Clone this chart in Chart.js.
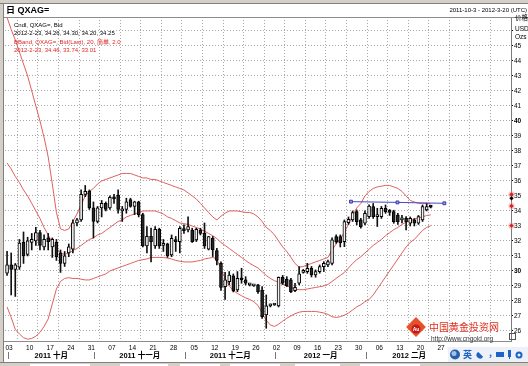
<!DOCTYPE html>
<html><head><meta charset="utf-8">
<script src="https://cdn.jsdelivr.net/npm/chart.js@4/dist/chart.umd.min.js"></script>
<style>html,body{margin:0;padding:0;background:#fff;overflow:hidden}canvas{display:block}</style>
</head><body>
<canvas id="c" width="528" height="366"></canvas>
<script>
// ---- data (trading-day index 0 = 2011-10-03) ----
const weekStarts = [0,5,10,15,20,25,30,35,40,45,50,55,60,65,70,75,80,85,90,95,100,105,110,115,120];
const weekLabels = ['03','10','17','24','31','07','14','21','28','05','12','19','26','02','09','16','23','30','06','13','20','27','','',''];
const monthNames = ['2011 十月','2011 十一月','2011 十二月','2012 一月','2012 二月'];
const monthStarts = [0,21,43,65,87,108];
const yTicks = [26,27,28,29,30,31,32,33,34,35,36,37,38,39,40,41,42,43,44,45,46];

const openP = [29.85,30.40,30.10,30.25,31.90,31.10,31.90,32.00,32.55,31.60,32.20,31.60,31.90,31.20,30.50,31.20,31.45,33.20,33.40,35.10,
35.30,34.20,33.30,34.20,34.50,34.20,34.90,35.05,34.00,34.10,34.75,34.30,34.60,33.75,31.67,32.30,31.67,32.78,31.70,31.80,
31.07,32.07,31.96,32.82,32.73,32.73,32.07,32.73,32.50,31.45,32.18,31.35,30.50,28.95,29.29,29.67,28.73,29.51,29.40,29.07,
29.00,29.07,28.73,27.07,27.67,27.73,27.67,29.58,29.44,29.40,28.69,29.18,29.90,29.96,30.18,29.73,29.96,30.29,30.40,30.51,
32.29,32.29,31.96,33.22,33.40,33.96,33.40,33.18,33.62,34.29,33.62,33.62,34.18,33.96,33.96,33.73,33.40,33.51,33.18,33.40,
33.18,33.40,34.07,34.26];
const highP = [31.30,31.20,30.50,32.10,32.60,32.25,32.50,32.90,32.70,32.40,32.50,32.20,32.10,31.40,31.30,31.80,33.40,33.50,35.40,35.70,
35.40,34.60,34.30,34.70,34.60,35.00,35.10,35.40,34.30,34.85,34.85,34.65,34.65,33.85,32.95,32.85,32.95,32.85,32.10,31.85,
32.40,32.30,32.95,33.07,33.60,32.85,32.85,32.85,33.20,32.30,32.30,31.50,30.60,29.90,29.96,29.80,29.96,30.18,29.62,29.10,
29.03,29.10,28.96,28.40,27.80,27.76,29.60,29.70,29.62,29.50,29.18,30.29,30.10,30.51,30.30,30.07,30.40,30.62,30.73,32.20,
32.40,32.40,33.40,33.60,34.00,34.07,33.50,34.00,34.40,34.50,34.18,34.30,34.40,34.10,34.05,33.84,33.70,33.62,33.60,33.50,
33.70,34.40,34.50,34.30];
const lowP = [29.70,28.40,28.30,30.10,30.50,31.00,31.40,31.70,31.40,31.40,31.40,30.90,30.70,29.90,30.30,30.95,31.20,33.00,33.30,34.95,
34.10,32.20,33.20,33.60,34.00,34.10,34.50,33.85,33.30,33.85,34.25,33.75,33.60,31.60,31.20,30.60,31.50,31.50,31.30,30.90,
30.95,31.30,31.20,32.50,32.60,31.90,31.96,32.40,31.50,31.40,30.96,30.40,28.70,28.10,29.07,28.60,28.62,29.18,29.07,29.00,
28.97,28.50,26.84,26.18,27.60,27.70,27.60,29.10,28.96,28.55,28.62,29.07,29.85,29.84,29.60,29.58,29.85,29.96,30.29,30.40,
31.84,31.60,31.62,33.10,33.30,33.07,32.85,33.07,33.51,33.50,32.96,33.50,33.84,33.70,33.18,33.10,33.20,32.73,33.00,33.00,
33.10,33.30,34.00,34.20];
const closeP = [30.40,30.10,30.40,31.85,31.00,32.00,32.10,32.55,31.70,32.10,31.95,32.10,30.95,30.50,31.00,31.60,33.20,33.40,35.10,35.30,
34.20,33.30,34.20,34.50,34.10,34.90,34.80,34.10,34.10,34.60,34.30,34.60,33.75,31.67,32.30,31.95,32.78,31.67,31.80,31.00,
32.18,31.96,32.84,32.69,32.96,31.96,32.78,32.50,31.67,32.29,31.40,30.70,28.90,29.40,29.73,28.69,29.51,29.40,29.18,29.07,
29.00,28.62,26.96,27.67,27.70,27.73,29.58,29.18,29.00,28.62,28.91,29.80,30.00,30.18,29.73,29.96,30.29,30.51,30.62,32.07,
31.96,31.89,33.29,33.44,33.89,33.29,32.96,33.84,34.33,33.62,33.70,34.18,33.96,33.90,33.29,33.29,33.50,33.29,33.50,33.18,
33.62,34.29,34.29,34.25];

const bbUpper = [46.9,46.1,45.4,44.6,43.8,43.0,42.0,41.0,40.0,38.9,37.6,35.8,33.9,32.8,32.7,32.8,33.3,33.8,34.4,35.0,
35.3,35.5,35.8,36.0,36.1,36.2,36.3,36.4,36.5,36.5,36.5,36.4,36.3,36.2,36.2,36.1,36.1,36.0,35.9,35.8,
35.7,35.6,35.5,35.4,35.2,35.0,34.8,34.5,34.2,33.9,33.6,33.4,33.65,33.85,34.0,34.0,34.0,33.95,33.9,33.9,
33.8,33.6,33.3,32.9,32.7,32.4,32.0,31.6,31.3,30.9,30.5,30.25,30.3,30.4,30.5,30.6,30.7,30.8,30.9,31.4,
31.8,32.1,32.6,33.1,33.7,34.2,34.5,35.0,35.3,35.5,35.6,35.65,35.7,35.7,35.6,35.5,35.3,35.0,34.7,34.6,
34.5,34.5,34.5,34.46];
const bbMiddle = [37.2,36.8,36.3,35.9,35.4,35.0,34.5,34.0,33.5,32.9,32.4,31.9,31.5,31.2,31.1,31.2,31.35,31.5,31.7,31.9,
32.1,32.2,32.4,32.5,32.7,32.9,33.1,33.3,33.4,33.6,33.7,33.8,33.9,34.0,34.0,34.0,34.0,33.9,33.8,33.6,
33.5,33.35,33.2,33.15,33.1,33.0,32.9,32.8,32.65,32.5,32.35,32.15,31.9,31.7,31.5,31.3,31.1,30.9,30.7,30.5,
30.35,30.2,29.95,29.7,29.5,29.35,29.25,29.1,29.0,28.9,28.8,28.75,28.75,28.8,28.85,28.9,28.95,29.0,29.1,29.3,
29.5,29.7,29.9,30.2,30.5,30.75,30.95,31.2,31.45,31.7,31.9,32.1,32.35,32.55,32.75,32.9,33.1,33.25,33.35,33.45,
33.55,33.6,33.7,33.74];
const bbLower = [27.6,26.9,26.1,25.8,25.55,25.45,25.5,25.65,25.9,26.3,26.8,27.8,28.8,29.3,29.5,29.55,29.5,29.5,29.45,29.4,
29.4,29.5,29.6,29.7,29.8,30.0,30.1,30.2,30.3,30.4,30.5,30.6,30.7,30.75,30.8,30.9,30.9,30.9,30.9,30.85,
30.8,30.7,30.65,30.6,30.6,30.6,30.65,30.7,30.8,30.85,30.9,30.8,30.1,29.5,29.0,28.7,28.5,28.35,28.2,28.1,
27.95,27.7,27.2,26.7,26.4,26.3,26.45,26.65,26.85,27.0,27.15,27.25,27.3,27.3,27.3,27.3,27.25,27.2,27.1,26.95,
26.9,26.95,27.05,27.2,27.4,27.6,27.75,27.95,28.1,28.4,28.8,29.2,29.6,30.0,30.4,30.8,31.2,31.6,31.9,32.1,
32.4,32.7,32.9,33.01];

const trendX = [83.6,94.9,106.3];
const trendY = [34.62,34.57,34.51];
const lastMarkValues = [35.1,34.84,34.33,33.02];
const lastMarkColors = ['#d42020','#000000','#d42020','#d42020'];

// ---- build ----
const FAM = '"Liberation Sans", Arial, "Noto Sans CJK SC", sans-serif';
const idx = openP.map((_, i) => i);
const wickData = idx.map(i => ({x: i, y: [lowP[i], highP[i]]}));
const bodyData = idx.map(i => ({x: i, y: [Math.min(openP[i], closeP[i]), Math.max(openP[i], closeP[i])]}));
const bodyFill = idx.map(i => closeP[i] >= openP[i] ? '#f2f2f2' : '#262626');
const band = arr => arr.map((v, i) => ({x: i, y: v}));
const trendData = trendX.map((x, k) => ({x, y: trendY[k]}));

const decor = {
  id: 'decor',
  beforeDraw(chart) {
    const c = chart.ctx; c.save(); c.fillStyle = '#fff'; c.fillRect(0, 0, 528, 366); c.restore();
  },
  afterDraw(chart) {
    const c = chart.ctx, xs = chart.scales.x, ys = chart.scales.y, a = chart.chartArea;
    c.save();
    // window chrome
    c.fillStyle = '#d4d0c8'; c.fillRect(0, 0, 528, 3); c.fillRect(0, 0, 3, 366);
    c.fillStyle = '#808080'; c.fillRect(0, 3, 528, 1); c.fillRect(3, 3, 1, 363);
    // frame
    c.strokeStyle = '#8c8c8c'; c.lineWidth = 1;
    c.beginPath(); c.moveTo(4, a.top + 0.5); c.lineTo(528, a.top + 0.5); c.stroke();
    c.beginPath(); c.moveTo(4, a.bottom + 0.5); c.lineTo(a.right, a.bottom + 0.5); c.stroke();
    // title
    c.fillStyle = '#000'; c.textBaseline = 'middle'; c.textAlign = 'left';
    c.font = 'bold 9px ' + FAM; c.fillText('日 QXAG=', 6, 10.5);
    c.font = '6px ' + FAM; c.textAlign = 'right';
    c.fillText('2011-10-3 - 2012-3-20 (UTC)', 527, 10.5);
    c.textAlign = 'left';
    c.font = '6.5px ' + FAM;
    c.fillText('价格', 515, 18.5); c.fillText('USD', 515, 29); c.fillText('Ozs', 515, 37.5);
    // legend
    c.font = '6px ' + FAM;
    c.fillStyle = '#000';
    c.fillText('Cndl, QXAG=, Bid', 14, 25);
    c.fillText('2012-2-23, ' + [openP[103], highP[103], lowP[103], closeP[103]].map(v => v.toFixed(2)).join(', '), 14, 33.5);
    c.fillStyle = '#e02828';
    c.fillText('BBand, QXAG=, Bid(Last), 20, 简单, 2.0', 14, 42);
    c.fillText('2012-2-23, ' + [bbUpper[103], bbMiddle[103], bbLower[103]].map(v => v.toFixed(2)).join(', '), 14, 50.5);
    // last value markers on axis
    lastMarkValues.forEach((v, k) => {
      const y = ys.getPixelForValue(v), x = a.right + 0.5;
      c.fillStyle = lastMarkColors[k] === '#000000' ? 'rgba(0,0,0,0)' : 'rgba(240,150,150,0.5)';
      c.beginPath(); c.arc(x, y, 3.2, 0, Math.PI * 2); c.fill();
      c.fillStyle = lastMarkColors[k];
      c.beginPath(); c.moveTo(x, y - 2.2); c.lineTo(x + 2.2, y); c.lineTo(x, y + 2.2); c.lineTo(x - 2.2, y); c.closePath(); c.fill();
    });
    // month row
    const sep = monthStarts.map(i => xs.getPixelForValue(i) + 1);
    c.strokeStyle = '#7a7a7a';
    for (let m = 0; m < monthNames.length; m++) {
      const sx = Math.round(sep[m]) + 0.5;
      c.beginPath(); c.moveTo(sx, 352); c.lineTo(sx, 359); c.stroke();
      c.fillStyle = '#000'; c.font = 'bold 7.5px ' + FAM; c.textAlign = 'center';
      c.fillText(monthNames[m], (sep[m] + sep[m + 1]) / 2, 355.5);
    }
    // watermark
    c.save(); c.translate(416, 327); c.rotate(Math.PI / 4);
    c.fillStyle = '#e8502a'; c.fillRect(-7, -7, 14, 14); c.restore();
    c.fillStyle = '#c41a1a'; c.beginPath(); c.arc(416, 329, 4.5, 0, Math.PI * 2); c.fill();
    c.fillStyle = '#fff'; c.font = 'bold 5px ' + FAM; c.textAlign = 'center'; c.fillText('Au', 416, 329.5);
    c.textAlign = 'left'; c.fillStyle = '#e0301e'; c.font = '10px "Noto Sans CJK SC", sans-serif';
    c.fillText('中国黄金投资网', 429, 327);
    c.fillStyle = '#333'; c.font = '6.5px ' + FAM; c.fillText('http://www.cngold.org', 431, 339.5);
    c.strokeStyle = '#555'; c.strokeRect(509.5, 333.5, 6, 6);
    // IME toolbar
    c.fillStyle = '#eef2f8'; c.fillRect(448, 347, 80, 15);
    c.fillStyle = '#2a5fa8'; c.beginPath(); c.arc(455, 354.5, 5, 0, Math.PI * 2); c.fill();
    c.fillStyle = '#9cc3ea'; c.beginPath(); c.arc(454, 353.5, 2.5, 0, Math.PI * 2); c.fill();
    c.fillStyle = '#1d63c8'; c.font = 'bold 9px "Noto Sans CJK SC", sans-serif'; c.fillText('英', 463, 355);
    c.beginPath(); c.arc(480, 355, 3.5, 0.5, 4.2); c.fill();
    c.fillText(',', 489, 353);
    c.fillRect(496, 352, 8, 5); c.fillRect(508, 350, 3, 7); c.fillRect(509, 357, 1, 2);
    c.beginPath(); c.arc(519, 355, 3.5, 0, Math.PI * 2); c.fill();
    c.fillStyle = '#eef2f8'; c.beginPath(); c.arc(519, 355, 1.5, 0, Math.PI * 2); c.fill();
    // status bar
    c.fillStyle = '#d4d0c8'; c.fillRect(0, 362, 528, 4);
    c.fillStyle = '#808080'; c.fillRect(0, 362, 528, 1);
    c.fillStyle = '#ffffff'; [[30, 60], [120, 48], [180, 40], [230, 50], [295, 45], [360, 60]].forEach(([x, w]) => c.fillRect(x, 364, w, 2));
    c.restore();
  }
};

new Chart(document.getElementById('c'), {
  type: 'bar',
  data: {
    datasets: [
      {type: 'line', data: band(bbUpper), borderColor: '#e06060', borderWidth: 1, pointRadius: 0, tension: 0, order: 5},
      {type: 'line', data: band(bbMiddle), borderColor: '#e06060', borderWidth: 1, pointRadius: 0, tension: 0, order: 5},
      {type: 'line', data: band(bbLower), borderColor: '#e06060', borderWidth: 1, pointRadius: 0, tension: 0, order: 5},
      {type: 'bar', data: wickData, backgroundColor: '#111', barThickness: 1, grouped: false, minBarLength: 1, order: 3},
      {type: 'bar', data: bodyData, backgroundColor: bodyFill, borderColor: '#000', borderWidth: 1, borderSkipped: false,
       barThickness: 3, grouped: false, minBarLength: 2, order: 2},
      {type: 'line', data: trendData, borderColor: '#4646c8', borderWidth: 1, pointStyle: 'rect', pointRadius: 2,
       pointBackgroundColor: '#9a9af0', pointBorderColor: '#3a3aa8', pointBorderWidth: 1, order: 1}
    ]
  },
  options: {
    responsive: false, animation: false, devicePixelRatio: 1,
    layout: {padding: {left: 4, top: 17, right: 0, bottom: 0}},
    plugins: {legend: {display: false}, tooltip: {enabled: false}},
    scales: {
      x: {
        type: 'linear', min: -0.5, max: 122.5, offset: false,
        afterBuildTicks: s => { s.ticks = weekStarts.map(v => ({value: v})); },
        afterFit: s => { s.height = 25; },
        grid: {color: '#a8a8a8', drawTicks: false, lineWidth: 1},
        border: {display: false, dash: [1, 2]},
        ticks: {autoSkip: false, maxRotation: 0, padding: 3, labelOffset: 2, color: '#000',
                font: {size: 6.5, family: FAM}, callback: (v, i) => weekLabels[i] || ''}
      },
      y: {
        position: 'right', min: 25.33, max: 46.93,
        afterBuildTicks: s => { s.ticks = yTicks.map(v => ({value: v})); },
        afterFit: s => { s.width = 17; },
        grid: {color: '#a8a8a8', tickLength: 2, tickColor: '#000'},
        border: {display: true, color: '#7a7a7a', dash: [1, 2]},
        ticks: {padding: 1, color: '#000',
                font: ctx => ({size: 6.5, family: FAM, weight: (ctx.tick && ctx.tick.value % 10 === 0) ? 'bold' : 'normal'}),
                callback: v => v === 46 ? '' : String(v)}
      }
    }
  },
  plugins: [decor]
});
</script>
</body></html>
